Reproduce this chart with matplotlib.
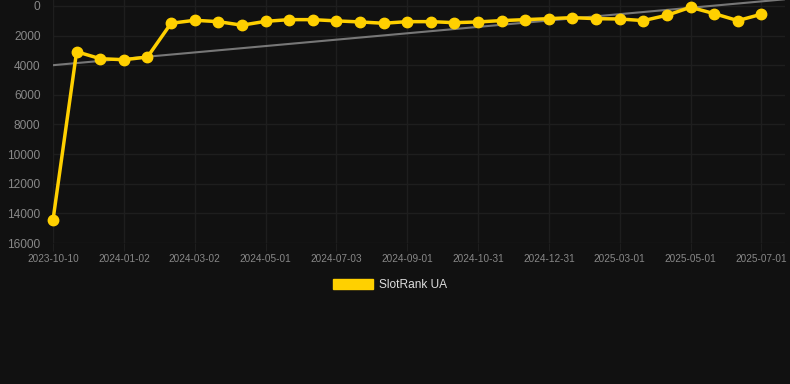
import numpy as np
import matplotlib.pyplot as plt
from matplotlib.patches import Patch

# category labels (only every 3rd one is shown on the axis)
dates = ['2023-10-10', '2023-11-06', '2023-12-05', '2024-01-02', '2024-01-22',
         '2024-02-11', '2024-03-02', '2024-03-22', '2024-04-11', '2024-05-01',
         '2024-05-22', '2024-06-12', '2024-07-03', '2024-07-23', '2024-08-12',
         '2024-09-01', '2024-09-21', '2024-10-11', '2024-10-31', '2024-11-20',
         '2024-12-10', '2024-12-31', '2025-01-20', '2025-02-09', '2025-03-01',
         '2025-03-21', '2025-04-10', '2025-05-01', '2025-05-21', '2025-06-10',
         '2025-07-01']
rank = [14450, 3090, 3560, 3630, 3450, 1170, 970, 1060, 1300, 1040,
        925, 925, 1010, 1080, 1170, 1060, 1060, 1130, 1080, 990,
        925, 860, 790, 860, 880, 990, 630, 90, 520, 990, 560]
trend_start, trend_end = 4000, -450
y_ticks = [0, 2000, 4000, 6000, 8000, 10000, 12000, 14000, 16000]

bg = '#111111'
grid_c = '#1e1e1e'
yellow = '#FFD000'

plt.rcParams['font.family'] = ['Liberation Sans', 'DejaVu Sans']

fig = plt.figure(figsize=(7.9, 3.84), dpi=100, facecolor=bg)
ax = fig.add_axes([53 / 790, 1 - 243 / 384, 732 / 790, 243 / 384])
ax.set_facecolor(bg)

x = np.arange(len(rank))
n = len(rank)
ax.plot([0, n], [trend_start, trend_end], color='#777777', lw=1.5, zorder=2)
ax.plot(x, rank, color=yellow, lw=2.5, marker='o', ms=7.5, zorder=3,
        clip_on=False)

ax.set_xlim(0, n)
ax.set_ylim(16000, -400)
ax.set_yticks(y_ticks)
ax.set_yticklabels([str(v) for v in y_ticks])
ax.set_xticks(x[::3])
ax.set_xticklabels(dates[::3])

ax.grid(True, color=grid_c, lw=1)
for s in ax.spines.values():
    s.set_visible(False)
ax.tick_params(axis='x', colors=grid_c, length=6, labelcolor='#888888',
               labelsize=7.2, pad=2)
ax.tick_params(axis='y', length=0, labelcolor='#888888', labelsize=8.6, pad=9)

fig.legend(handles=[Patch(facecolor=yellow, edgecolor=yellow, label='SlotRank UA')],
           loc='upper center', bbox_to_anchor=(0.4935, 1 - 268 / 384),
           frameon=False, fontsize=8.6, handlelength=3.3, handleheight=0.9,
           handletextpad=0.5, labelcolor='#dddddd')

fig.savefig('out.png', dpi=100, facecolor=bg)
